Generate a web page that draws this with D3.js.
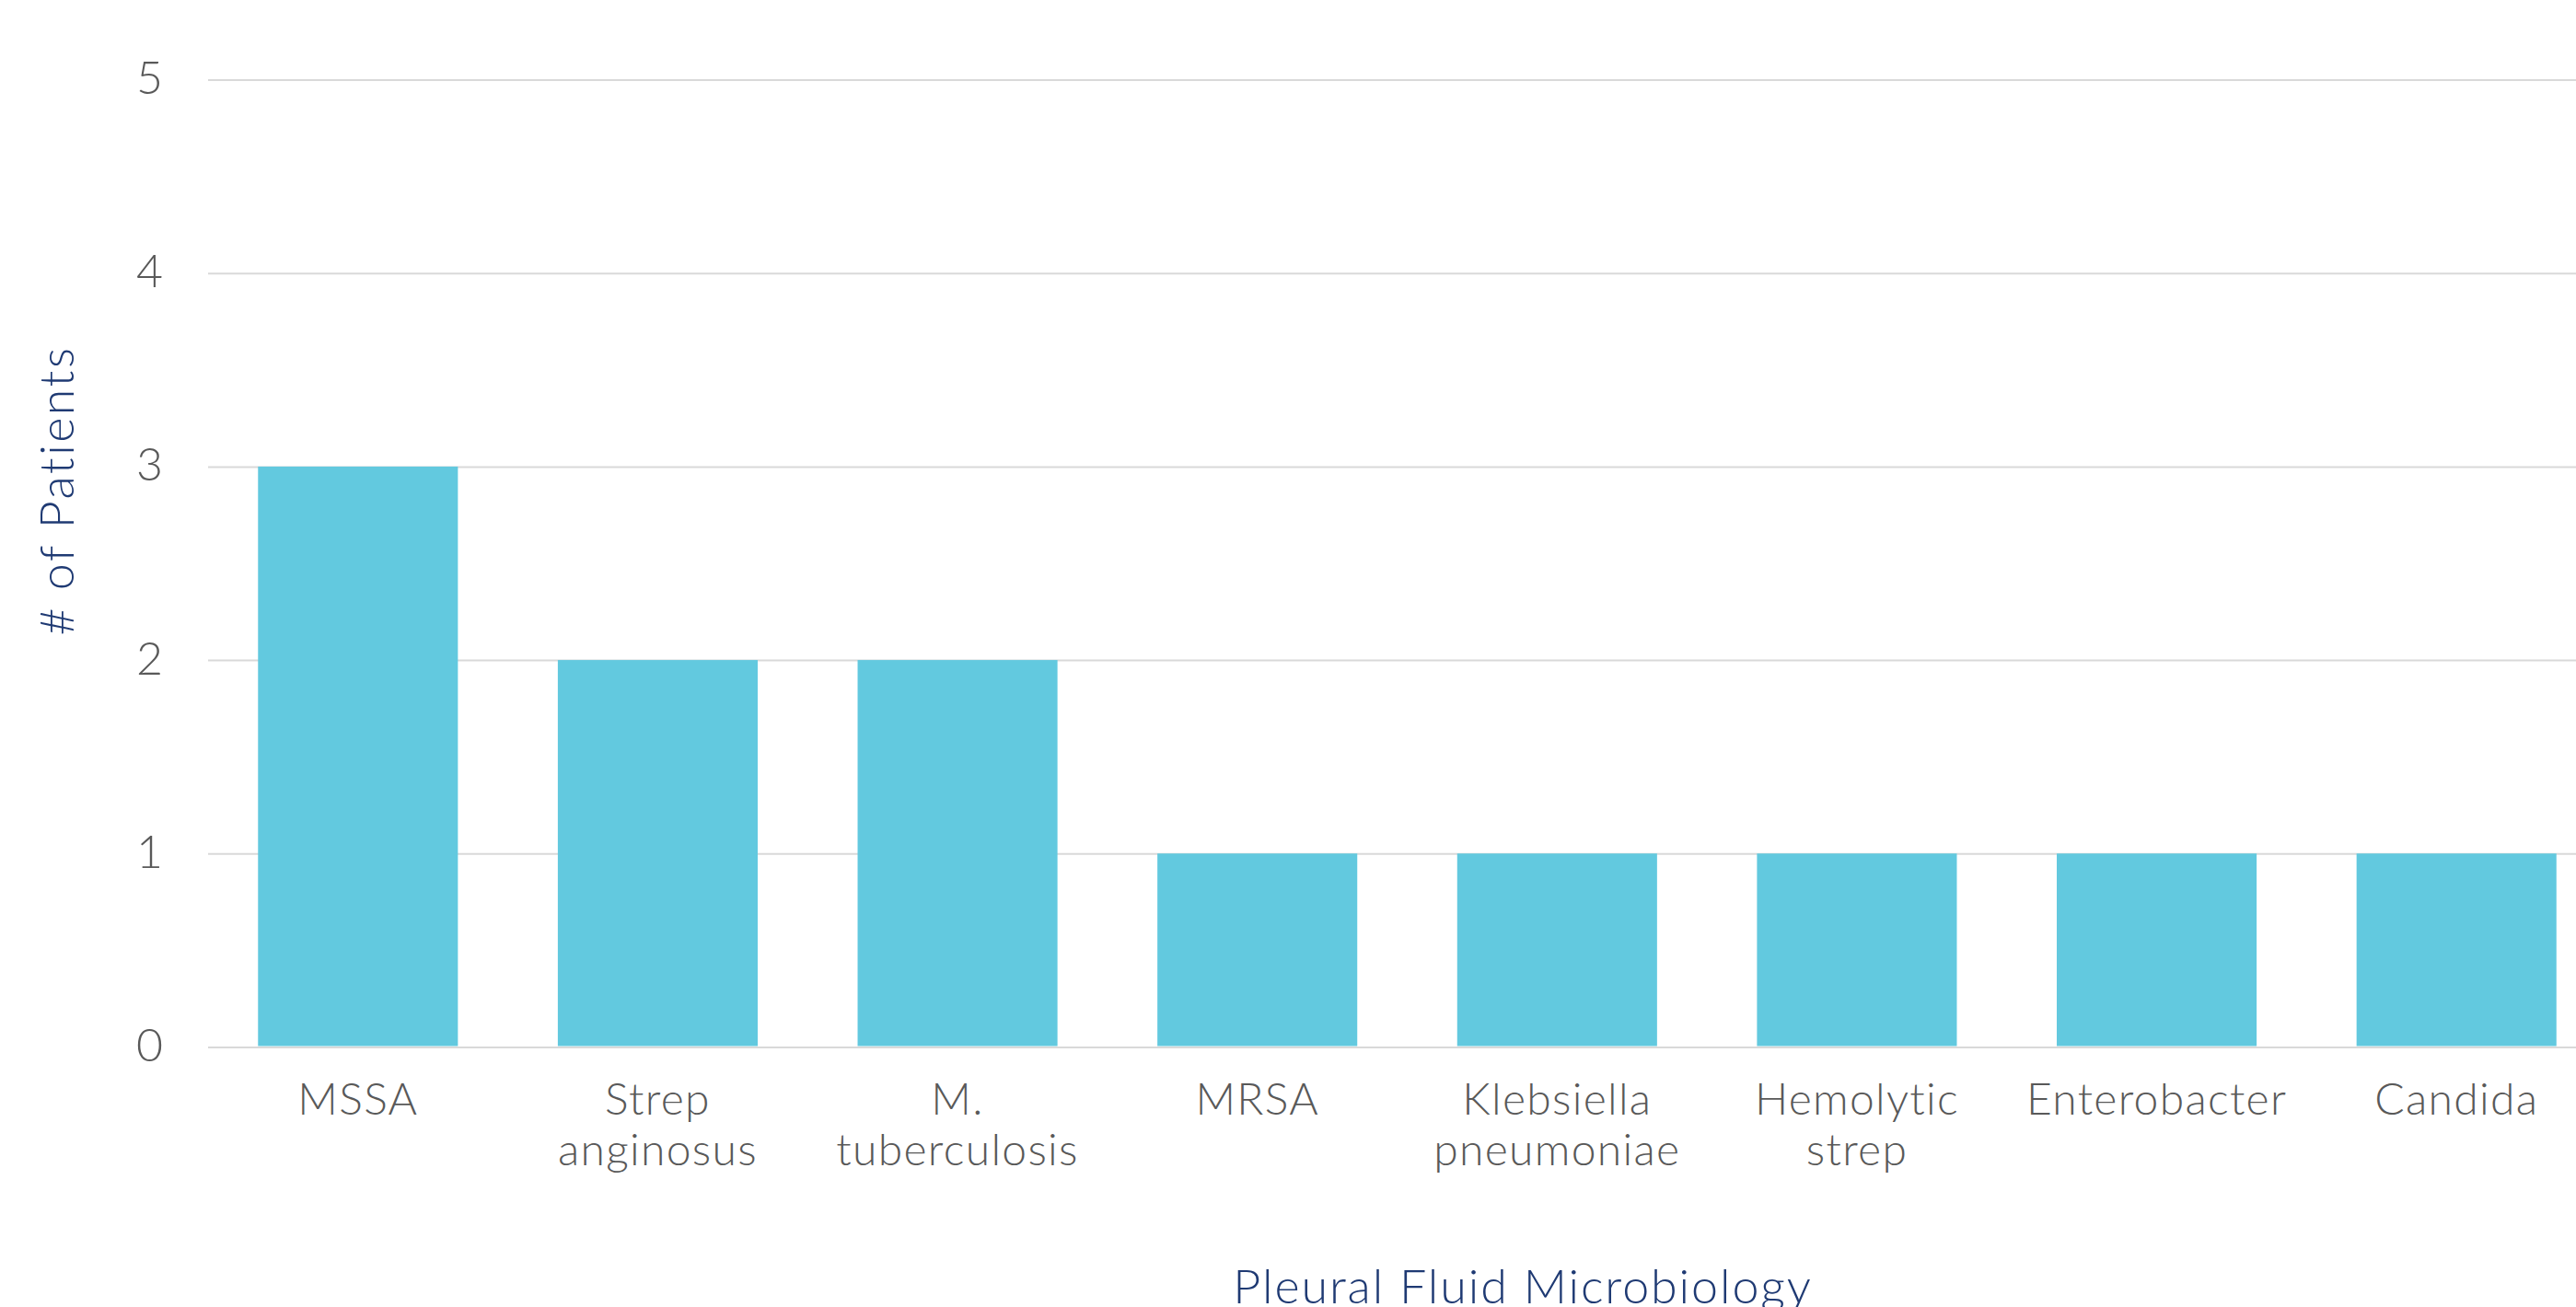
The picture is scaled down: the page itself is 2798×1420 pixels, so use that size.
<!DOCTYPE html>
<html>
<head>
<meta charset="utf-8">
<script src="https://cdn.jsdelivr.net/npm/d3@7"></script>
<style>
  html, body { margin: 0; padding: 0; background: #ffffff; }
  svg { display: block; }
  text { font-family: Lato, "Open Sans", "Noto Sans", sans-serif; font-weight: 300; }
</style>
</head>
<body>
<svg id="chart"></svg>
<script>
// Pleural fluid culture results: number of patients per organism
const categories = ["MSSA", "Strep anginosus", "M. tuberculosis", "MRSA",
                    "Klebsiella pneumoniae", "Hemolytic strep", "Enterobacter", "Candida"];
const patients = [3, 2, 2, 1, 1, 1, 1, 1];
const yTicks = [0, 1, 2, 3, 4, 5];
const xTitle = "Pleural Fluid Microbiology";
const yTitle = "# of Patients";

const W = 2798, H = 1420;
const plot = { left: 226, right: 2831, top: 86.5, bottom: 1137.5 };

const svg = d3.select("#chart").attr("width", W).attr("height", H);

const x = d3.scaleBand()
  .domain(categories)
  .range([plot.left, plot.right])
  .paddingInner(1 / 3)
  .paddingOuter(1 / 6);

const y = d3.scaleLinear()
  .domain([0, 5])
  .range([plot.bottom, plot.top]);

// Horizontal gridlines with value labels on the left
const yAxis = svg.append("g")
  .attr("transform", `translate(${plot.left},0)`)
  .call(d3.axisLeft(y).tickValues(yTicks).tickFormat(d3.format("d"))
    .tickSize(-(W - plot.left)).tickPadding(49));
yAxis.select(".domain").remove();
yAxis.selectAll(".tick line").attr("stroke", "#d9d9d9").attr("stroke-width", 2);
yAxis.selectAll(".tick text")
  .attr("fill", "#595959")
  .attr("font-size", 50)
  .attr("dy", "0.3em");

// Bars
svg.append("g").selectAll("rect")
  .data(categories)
  .join("rect")
  .attr("x", d => x(d))
  .attr("width", x.bandwidth())
  .attr("y", (d, i) => y(patients[i]))
  .attr("height", (d, i) => y(0) - y(patients[i]) - 1)
  .attr("fill", "#62c9df");

// Category labels, one word per line
const xAxis = svg.append("g")
  .attr("transform", `translate(0,${y(0)})`)
  .call(d3.axisBottom(x).tickSize(0).tickFormat(""));
xAxis.select(".domain").remove();
xAxis.selectAll(".tick").each(function(d) {
  const t = d3.select(this).append("text")
    .attr("fill", "#595959")
    .attr("font-size", 48)
    .attr("letter-spacing", 1.3)
    .attr("text-anchor", "middle")
    .attr("y", 73.5);
  d.split(" ").forEach((w, i) => {
    t.append("tspan").attr("x", 0).attr("dy", i === 0 ? 0 : 55).text(w);
  });
});

// Axis titles
svg.append("text")
  .attr("transform", "translate(80,533) rotate(-90)")
  .attr("text-anchor", "middle")
  .attr("fill", "#1f3a73")
  .attr("font-size", 52)
  .attr("letter-spacing", 2.5)
  .text(yTitle);

svg.append("text")
  .attr("x", 1654)
  .attr("y", 1416)
  .attr("text-anchor", "middle")
  .attr("fill", "#1f3a73")
  .attr("font-size", 52)
  .attr("letter-spacing", 1.9)
  .text(xTitle);
</script>
</body>
</html>
